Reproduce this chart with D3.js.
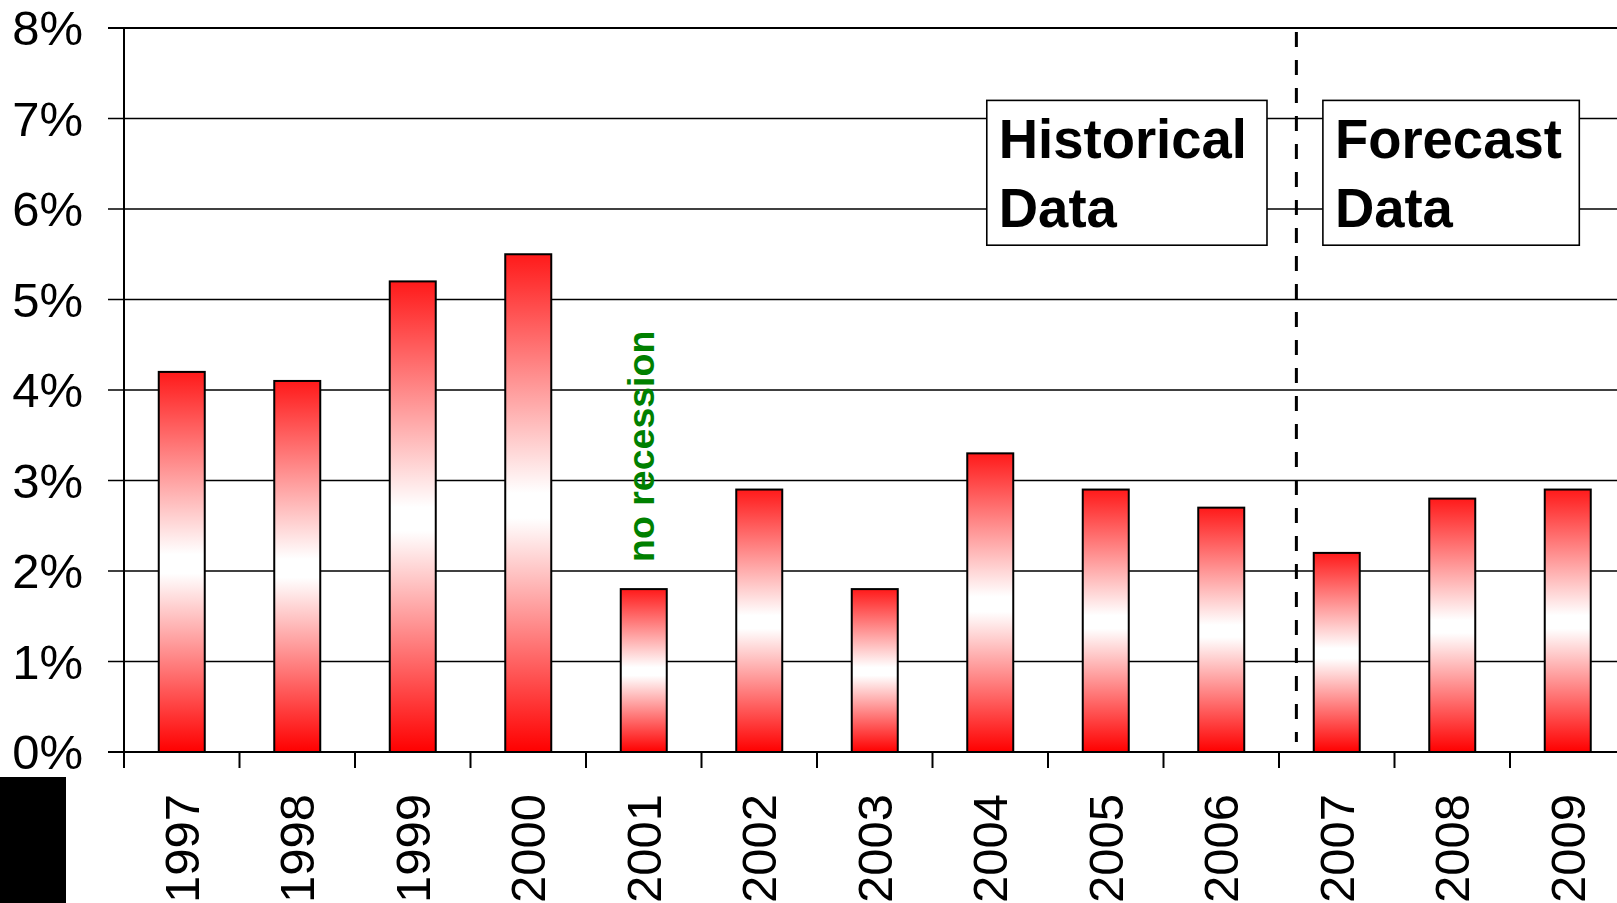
<!DOCTYPE html>
<html><head><meta charset="utf-8">
<script src="https://cdn.jsdelivr.net/npm/d3@7"></script>
<style>html,body{margin:0;padding:0;background:#fff;overflow:hidden}svg{display:block}</style>
</head><body>
<svg id="c" width="1617" height="903"></svg>
<script>
const years = ["1997","1998","1999","2000","2001","2002","2003","2004","2005","2006","2007","2008","2009"];
const growth = [4.2,4.1,5.2,5.5,1.8,2.9,1.8,3.3,2.9,2.7,2.2,2.8,2.9];
const yTicks = [0,1,2,3,4,5,6,7,8];
const boxLabels = [["Historical","Data"],["Forecast","Data"]];
const noteText = "no recession";
const forecastStart = "2007";
const noteYear = "2001";

(function(){
const svg = d3.select("#c");
const mLeft = 124, mTop = 28, ph = 724, bw = 115.5;
const x = d3.scaleBand().domain(years).range([mLeft, mLeft + bw*years.length]).paddingInner(0).paddingOuter(0);
const y = d3.scaleLinear().domain([0,8]).range([mTop+ph, mTop]);
const barW = 46;
const off = (x.bandwidth()-barW)/2;
const FF = "Liberation Sans, Arial, sans-serif";

const defs = svg.append("defs");
const g = defs.append("linearGradient").attr("id","bg").attr("x1",0).attr("y1",0).attr("x2",0).attr("y2",1);
[["0%","#ff1a1a"],["48%","#ffffff"],["53%","#ffffff"],["100%","#ff0000"]].forEach(s=>
  g.append("stop").attr("offset",s[0]).attr("stop-color",s[1]));

// gridlines
svg.append("g").selectAll("line").data(yTicks).join("line")
  .attr("x1", mLeft-16).attr("x2", 1617).attr("y1", d=>y(d)).attr("y2", d=>y(d))
  .attr("stroke","#000").attr("stroke-width", d=> d===8||d===0 ? 2.2 : 1.6);

// y axis line
svg.append("line").attr("x1",mLeft).attr("x2",mLeft).attr("y1",y(8)).attr("y2",y(0)+16)
  .attr("stroke","#000").attr("stroke-width",2);

// x ticks at band boundaries
svg.append("g").selectAll("line").data(years.slice(1)).join("line")
  .attr("x1", d=>x(d)).attr("x2", d=>x(d)).attr("y1", y(0)).attr("y2", y(0)+16)
  .attr("stroke","#000").attr("stroke-width",2);

// y labels
svg.append("g").selectAll("text").data(yTicks).join("text")
  .attr("x",83).attr("y", d=>y(d)+17)
  .attr("text-anchor","end").attr("font-family",FF)
  .attr("font-size",49).attr("fill","#000").text(d=>d+"%");

// x labels
svg.append("g").selectAll("text").data(years).join("text")
  .attr("transform", d=>`translate(${x(d)+x.bandwidth()/2+17},794) rotate(-90)`)
  .attr("text-anchor","end").attr("font-family",FF)
  .attr("font-size",49).attr("fill","#000").text(d=>d);

// bars
svg.append("g").selectAll("rect").data(years).join("rect")
  .attr("x", d=>x(d)+off).attr("width", barW)
  .attr("y", (d,i)=>y(growth[i])).attr("height",(d,i)=>y(0)-y(growth[i]))
  .attr("fill","url(#bg)").attr("stroke","#000").attr("stroke-width",2);

// dashed divider
const dx = x(forecastStart) + off/2;
svg.append("line").attr("x1",dx).attr("x2",dx).attr("y1",y(8)+4).attr("y2",y(0)-10)
  .attr("stroke","#000").attr("stroke-width",3).attr("stroke-dasharray","15,13");

// boxes
const bxs = [
  {x1: x("2004")+bw*0.47, x2: x("2007")-bw*0.104, lab: boxLabels[0]},
  {x1: x("2007")+bw*0.38, x2: x("2009")+bw*0.6, lab: boxLabels[1]}
];
const bxG = svg.append("g").selectAll("g").data(bxs).join("g");
bxG.append("rect").attr("x",d=>d.x1).attr("width",d=>d.x2-d.x1)
  .attr("y", y(7.2)).attr("height", y(5.6)-y(7.2))
  .attr("fill","#fff").attr("stroke","#000").attr("stroke-width",1.6);
bxG.each(function(d){
  const s = d3.select(this);
  d.lab.forEach((t,i)=>{
    s.append("text").attr("transform",`translate(${d.x1+12},${158+i*69}) scale(0.99,1)`)
      .attr("font-family",FF).attr("font-weight","bold")
      .attr("font-size",55).attr("fill","#000").text(t);
  });
});

// note
svg.append("text").attr("transform",`translate(${x(noteYear)+x.bandwidth()/2+10},562) rotate(-90)`)
  .attr("font-family",FF).attr("font-weight","bold")
  .attr("font-size",37.5).attr("fill","#008000").text(noteText);

// black corner block
svg.append("rect").attr("x",0).attr("y",777).attr("width",66).attr("height",126).attr("fill","#000");
})();
</script>
</body></html>
